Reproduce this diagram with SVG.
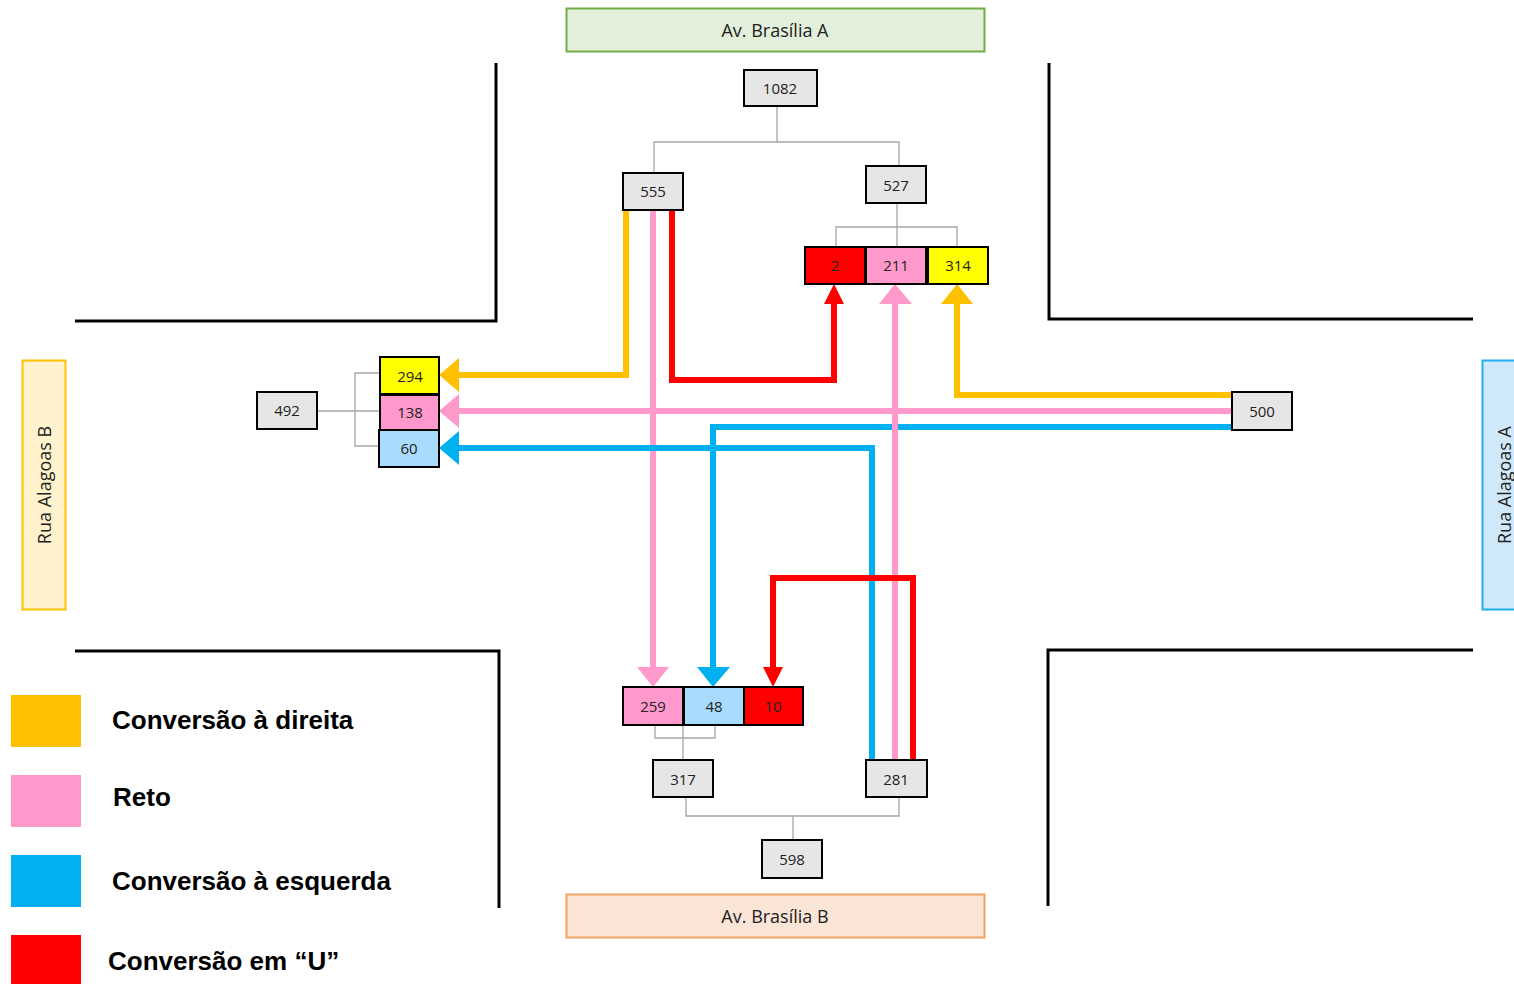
<svg xmlns="http://www.w3.org/2000/svg" width="1514" height="984" viewBox="0 0 1514 984">
  <style>
    .road { fill: none; stroke: #000; stroke-width: 3; }
    .box { stroke: #000; stroke-width: 2; }
    .gray { fill: #e7e6e6; }
    .lbl { font-family: "Open Sans", "Liberation Sans", sans-serif; font-size: 15px; fill: #222; text-anchor: middle; dominant-baseline: central; }
    .street { font-family: "Open Sans", "Liberation Sans", sans-serif; font-size: 18px; fill: #222; text-anchor: middle; dominant-baseline: central; }
    .tree { fill: none; stroke: #a6a6a6; stroke-width: 1.3; }
    .flow { fill: none; stroke-width: 6; stroke-linejoin: miter; }
    .legend { font-family: "Liberation Sans", Arial, sans-serif; font-size: 26px; font-weight: bold; fill: #000; }
  </style>

  <!-- road edges -->
  <g id="roads">
    <path class="road" d="M496 63 V321 H75"/>
    <path class="road" d="M1049 63 V319 H1473"/>
    <path class="road" d="M75 651 H499 V908"/>
    <path class="road" d="M1473 650 H1048 V906"/>
  </g>

  <!-- street names -->
  <g id="av-brasilia-a">
    <rect x="566.5" y="8.5" width="418" height="43" fill="#e2efda" stroke="#70ad47" stroke-width="2"/>
    <text class="street" x="775" y="30">Av. Brasília A</text>
  </g>
  <g id="av-brasilia-b">
    <rect x="566.5" y="894.5" width="418" height="43" fill="#fbe5d6" stroke="#f4a460" stroke-width="2"/>
    <text class="street" x="775" y="916">Av. Brasília B</text>
  </g>
  <g id="rua-alagoas-b">
    <rect x="22.5" y="360.5" width="43" height="249" fill="#fff2cc" stroke="#ffc000" stroke-width="2"/>
    <text class="street" transform="translate(44 485) rotate(-90)">Rua Alagoas B</text>
  </g>
  <g id="rua-alagoas-a">
    <rect x="1482.5" y="360.5" width="43" height="249" fill="#cfe9fb" stroke="#1fb0f0" stroke-width="2"/>
    <text class="street" transform="translate(1504 485) rotate(-90)">Rua Alagoas A</text>
  </g>

  <!-- tree connectors (gray) and flow arrows -->
  <g id="connectors">
    <path class="tree" d="M777 106 V142 M654 172 V142 H899 V165"/>
    <path class="tree" d="M897 203 V246 M836 246 V227 H957 V246"/>
    <path class="tree" d="M317 411 H380 M380 373 H355 V446 H380"/>
    <path class="tree" d="M655 725 V738 H715 V725 M683 725 V760"/>
    <path class="tree" d="M686 797 V816 H899 V797 M793 816 V840"/>

    <!-- from 555 -->
    <path class="flow" stroke="#ffc000" d="M626 210 V375 H458"/>
    <polygon fill="#ffc000" points="439,375 459,358 459,392"/>
    <path class="flow" stroke="#ff99cc" stroke-width="5" d="M653 210 V668"/>
    <polygon fill="#ff99cc" points="653,687 637,667 669,667"/>
    <path class="flow" stroke="#ff0000" d="M672 210 V380 H834 V302"/>
    <polygon fill="#ff0000" points="834,284 824,304 844,304"/>

    <!-- from 500 -->
    <path class="flow" stroke="#ffc000" d="M1232 395 H957 V302"/>
    <polygon fill="#ffc000" points="957,284 941,304 973,304"/>
    <path class="flow" stroke="#ff99cc" stroke-width="5" d="M1232 411 H458"/>
    <polygon fill="#ff99cc" points="439,411 459,394 459,428"/>
    <path class="flow" stroke="#00b0f0" stroke-width="5" d="M1232 427 H713 V668"/>
    <polygon fill="#00b0f0" points="713,687 697,667 730,667"/>

    <!-- from 281 -->
    <path class="flow" stroke="#00b0f0" stroke-width="5" d="M872 760 V448 H458"/>
    <polygon fill="#00b0f0" points="439,448 459,431 459,465"/>
    <path class="flow" stroke="#ff99cc" stroke-width="5" d="M895 760 V302"/>
    <polygon fill="#ff99cc" points="895,284 879,304 912,304"/>
    <path class="flow" stroke="#ff0000" d="M913 760 V578 H773 V668"/>
    <polygon fill="#ff0000" points="773,687 763,667 783,667"/>
  </g>

  <!-- count nodes -->
  <g id="n1082"><rect class="box gray" x="744" y="70" width="73" height="36"/><text class="lbl" x="780" y="88">1082</text></g>
  <g id="n555"><rect class="box gray" x="623" y="173" width="60" height="37"/><text class="lbl" x="653" y="191">555</text></g>
  <g id="n527"><rect class="box gray" x="866" y="166" width="60" height="37"/><text class="lbl" x="896" y="185">527</text></g>
  <g id="n2"><rect class="box" fill="#ff0000" x="805" y="247" width="60" height="37"/><text class="lbl" x="835" y="265">2</text></g>
  <g id="n211"><rect class="box" fill="#ff99cc" x="866" y="247" width="60" height="37"/><text class="lbl" x="896" y="265">211</text></g>
  <g id="n314"><rect class="box" fill="#ffff00" x="928" y="247" width="60" height="37"/><text class="lbl" x="958" y="265">314</text></g>
  <g id="n492"><rect class="box gray" x="257" y="392" width="60" height="37"/><text class="lbl" x="287" y="410">492</text></g>
  <g id="n294"><rect class="box" fill="#ffff00" x="380" y="357" width="59" height="37"/><text class="lbl" x="410" y="376">294</text></g>
  <g id="n138"><rect class="box" fill="#ff99cc" x="380" y="395" width="59" height="35"/><text class="lbl" x="410" y="412">138</text></g>
  <g id="n60"><rect class="box" fill="#a9dbfc" x="379" y="430" width="60" height="37"/><text class="lbl" x="409" y="448">60</text></g>
  <g id="n500"><rect class="box gray" x="1232" y="392" width="60" height="38"/><text class="lbl" x="1262" y="411">500</text></g>
  <g id="n259"><rect class="box" fill="#ff99cc" x="623" y="687" width="60" height="38"/><text class="lbl" x="653" y="706">259</text></g>
  <g id="n48"><rect class="box" fill="#a9dbfc" x="684" y="687" width="60" height="38"/><text class="lbl" x="714" y="706">48</text></g>
  <g id="n10"><rect class="box" fill="#ff0000" x="744" y="687" width="59" height="38"/><text class="lbl" x="773" y="706">10</text></g>
  <g id="n317"><rect class="box gray" x="653" y="760" width="60" height="37"/><text class="lbl" x="683" y="779">317</text></g>
  <g id="n281"><rect class="box gray" x="866" y="760" width="61" height="37"/><text class="lbl" x="896" y="779">281</text></g>
  <g id="n598"><rect class="box gray" x="762" y="840" width="60" height="38"/><text class="lbl" x="792" y="859">598</text></g>

  <!-- legend -->
  <g id="legend">
    <rect x="11" y="695" width="70" height="52" fill="#ffc000"/>
    <text class="legend" x="112" y="729">Conversão à direita</text>
    <rect x="11" y="775" width="70" height="52" fill="#ff99cc"/>
    <text class="legend" x="113" y="806">Reto</text>
    <rect x="11" y="855" width="70" height="52" fill="#00b0f0"/>
    <text class="legend" x="112" y="890">Conversão à esquerda</text>
    <rect x="11" y="935" width="70" height="52" fill="#ff0000"/>
    <text class="legend" x="108" y="970">Conversão em “U”</text>
  </g>
</svg>
